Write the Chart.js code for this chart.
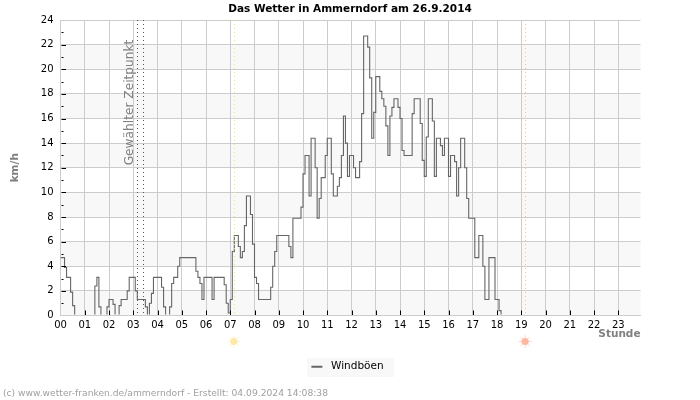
<!DOCTYPE html>
<html>
<head>
<meta charset="utf-8">
<title>Das Wetter in Ammerndorf</title>
<script src="https://cdn.jsdelivr.net/npm/chart.js@4/dist/chart.umd.min.js"></script>
<style>
  html, body { margin: 0; padding: 0; background: #fff; }
  #wrap { width: 700px; height: 400px; }
</style>
</head>
<body>
<div id="wrap"><canvas id="wetter" width="700" height="400"></canvas></div>
<script>
// wind gusts in km/h, one value every 5 minutes, one row per hour
const windGusts = [
  4.7, 4.7, 3.9, 3.1, 3.1, 1.9, 0.8, 0, 0, 0, 0, 0,
  0, 0, 0, 0, 0, 2.4, 3.1, 0.7, 0, 0, 0, 0.7,
  1.3, 1.3, 0.9, 0, 0, 0.8, 1.3, 1.3, 1.3, 2, 3.1, 3.1,
  3.1, 2, 1.3, 1.3, 1.3, 1.3, 0.7, 0, 1, 1.8, 3.1, 3.1,
  3.1, 3.1, 2.3, 0.7, 0, 0, 0.7, 2.6, 3.1, 3.1, 4, 4.7,
  4.7, 4.7, 4.7, 4.7, 4.7, 4.7, 4.7, 3.6, 3.1, 2.6, 1.3, 3.1,
  3.1, 3.1, 3.1, 1.3, 3.1, 3.1, 3.1, 3.1, 3.1, 2.5, 1, 0.2,
  1.3, 5.2, 6.5, 6.5, 5.6, 4.7, 5.2, 7.3, 9.7, 9.7, 8.2, 5.8,
  3.1, 2.6, 1.3, 1.3, 1.3, 1.3, 1.3, 1.3, 2.3, 4, 5.2, 6.5,
  6.5, 6.5, 6.5, 6.5, 6.5, 5.6, 4.7, 7.9, 7.9, 7.9, 7.9, 8.8,
  11.5, 13, 13, 9.7, 14.4, 14.4, 12, 7.9, 9.5, 11.2, 11.2, 13,
  14.4, 14.4, 11.5, 9.7, 9.7, 10.5, 11.2, 13, 16.2, 14, 11.3, 13,
  13, 12, 11.2, 11.2, 12.5, 16.4, 22.7, 22.7, 21.8, 19.3, 14.4, 16.5,
  19.4, 19.4, 18.2, 17.6, 17, 15.4, 13, 16.2, 16.9, 17.6, 17.6, 16.9,
  16, 13.4, 13, 13, 13, 13, 16.4, 17.6, 17.6, 17.6, 15.6, 12.6,
  11.3, 14.5, 17.6, 17.6, 15.8, 11.3, 14.4, 14.4, 13.8, 13, 14.4, 14.4,
  11.3, 13, 13, 12.5, 9.7, 12, 14.4, 14.4, 12, 9.5, 7.9, 7.9,
  7.9, 4.7, 4.7, 6.5, 6.5, 4, 1.3, 1.3, 4.7, 4.7, 4.7, 1.3,
  1.3, 0.4, 0
];
const hourLabels = ['00', '01', '02', '03', '04', '05', '06', '07', '08', '09', '10', '11',
  '12', '13', '14', '15', '16', '17', '18', '19', '20', '21', '22', '23'];
const shadedBands = [[0, 2], [4, 6], [8, 10], [12, 14], [16, 18], [20, 22]];
const selectedTimes = [3.16, 3.42];
const sunriseHour = 7.15;
const sunsetHour = 19.16;
const lastHour = 23 + 55 / 60; // axis ends at the last 5 minute slot

const gridColor = '#cccccc';
const greyText = '#808080';
const footerText = '(c) www.wetter-franken.de/ammerndorf - Erstellt: 04.09.2024 14:08:38';

function drawSun(ctx, x, y, core, ray) {
  ctx.save();
  ctx.strokeStyle = ray;
  ctx.lineWidth = 1;
  for (let a = 0; a < 8; a++) {
    const ang = a * Math.PI / 4;
    ctx.beginPath();
    ctx.moveTo(x + Math.cos(ang) * 3, y + Math.sin(ang) * 3);
    ctx.lineTo(x + Math.cos(ang) * 6.5, y + Math.sin(ang) * 6.5);
    ctx.stroke();
  }
  ctx.fillStyle = core;
  ctx.beginPath();
  ctx.arc(x, y, 3.6, 0, Math.PI * 2);
  ctx.fill();
  ctx.restore();
}

const wetterDecor = {
  id: 'wetterDecor',
  afterLayout(chart) {
    // the legend entry sits a little left of the centre of its box
    chart.legend.right -= 5;
  },
  beforeDraw(chart) {
    const { ctx, chartArea: a, scales: { y } } = chart;
    ctx.save();
    ctx.fillStyle = '#f8f8f8';
    shadedBands.forEach(b => {
      const top = y.getPixelForValue(b[1]);
      ctx.fillRect(a.left, top, a.right - a.left, y.getPixelForValue(b[0]) - top);
    });
    ctx.fillRect(307, 358, 87, 19);
    ctx.restore();
  },
  afterDatasetsDraw(chart) {
    const { ctx, chartArea: a, scales: { x, y } } = chart;
    ctx.save();

    // short black tick marks inside the plot
    ctx.strokeStyle = '#000';
    ctx.lineWidth = 1;
    for (let v = 1; v < 24; v++) {
      const py = Math.round(y.getPixelForValue(v)) + 0.5;
      ctx.beginPath();
      ctx.moveTo(a.left + 1, py);
      ctx.lineTo(a.left + (v % 2 ? 3 : 5.5), py);
      ctx.stroke();
    }
    for (let h = 1; h < 24; h++) {
      const px = Math.round(x.getPixelForValue(h)) + 0.5;
      ctx.beginPath();
      ctx.moveTo(px, a.bottom - 5);
      ctx.lineTo(px, a.bottom - 0.5);
      ctx.stroke();
    }

    // selected time, sunrise and sunset markers
    const vLine = (hour, color) => {
      const px = Math.round(x.getPixelForValue(hour)) + 0.5;
      ctx.strokeStyle = color;
      ctx.setLineDash([1, 3]);
      ctx.beginPath();
      ctx.moveTo(px, a.top);
      ctx.lineTo(px, a.bottom);
      ctx.stroke();
      ctx.setLineDash([]);
    };
    selectedTimes.forEach(t => vLine(t, '#555555'));
    vLine(sunriseHour, '#f2ea50');
    vLine(sunsetHour, '#f2c48a');

    ctx.font = '9.17px "DejaVu Sans"';
    ctx.fillStyle = '#a0a0a0';
    ctx.textAlign = 'left';
    ctx.textBaseline = 'middle';
    ctx.fillText(footerText, 3, 393.5);

    ctx.translate(130, 102.5);
    ctx.rotate(-Math.PI / 2);
    ctx.font = '12.2px "DejaVu Sans"';
    ctx.fillStyle = greyText;
    ctx.textAlign = 'center';
    ctx.fillText('Gewählter Zeitpunkt', 0, 0);
    ctx.restore();

    drawSun(ctx, x.getPixelForValue(sunriseHour), 341.5, '#ffe9a6', '#fff2cc');
    drawSun(ctx, x.getPixelForValue(sunsetHour), 341.5, '#ffb8a0', '#ffd8cc');
  }
};

new Chart(document.getElementById('wetter'), {
  type: 'line',
  data: {
    datasets: [{
      label: 'Windböen',
      data: windGusts.map((v, i) => ({ x: i / 12, y: v })),
      borderColor: '#666666',
      backgroundColor: '#666666',
      borderWidth: 1.1,
      stepped: true,
      pointRadius: 0,
      fill: false,
      clip: { left: 0, top: 0, right: 0, bottom: -1 }
    }]
  },
  options: {
    responsive: false,
    animation: false,
    layout: { padding: { left: 0, right: 0, top: 0, bottom: 18 } },
    plugins: {
      title: {
        display: true,
        text: 'Das Wetter in Ammerndorf am 26.9.2014',
        color: '#000',
        font: { family: '"DejaVu Sans"', size: 10.5, weight: 'bold', lineHeight: 1.2 },
        padding: { top: 3, bottom: 4.4 }
      },
      legend: {
        position: 'bottom',
        labels: {
          color: '#000',
          font: { family: '"DejaVu Sans"', size: 10.5 },
          boxWidth: 11,
          boxHeight: 0,
          padding: 5,
          generateLabels(chart) {
            const items = Chart.defaults.plugins.legend.labels.generateLabels(chart);
            items.forEach(it => { it.lineWidth = 2; it.text = ' ' + it.text; });
            return items;
          }
        }
      },
      tooltip: { enabled: false }
    },
    scales: {
      x: {
        type: 'linear',
        min: 0,
        max: lastHour,
        afterFit(scale) { scale.height = 41; },
        afterBuildTicks(scale) {
          scale.ticks = hourLabels.map((l, i) => ({ value: i }));
        },
        grid: { color: gridColor, drawTicks: false },
        border: { color: gridColor },
        ticks: {
          color: '#000',
          font: { family: '"DejaVu Sans"', size: 10 },
          padding: 4,
          maxRotation: 0,
          autoSkip: false,
          callback: v => hourLabels[v]
        },
        title: {
          display: true,
          text: 'Stunde',
          align: 'end',
          color: greyText,
          font: { family: '"DejaVu Sans"', size: 10.5, weight: 'bold' },
          padding: { top: 0, bottom: 16 }
        }
      },
      y: {
        min: 0,
        max: 24,
        afterFit(scale) { scale.width = 60.5; },
        grid: { color: gridColor, drawTicks: false },
        border: { color: gridColor },
        ticks: {
          color: '#000',
          font: { family: '"DejaVu Sans"', size: 10 },
          stepSize: 2,
          padding: 7
        },
        title: {
          display: true,
          text: 'km/h',
          color: greyText,
          font: { family: '"DejaVu Sans"', size: 10.5, weight: 'bold' },
          padding: { top: 9, bottom: 0 }
        }
      },
      // empty axis that only keeps the right margin free
      rightMargin: {
        axis: 'y',
        position: 'right',
        afterFit(scale) { scale.width = 59.5; },
        grid: { display: false },
        border: { display: false },
        ticks: { display: false }
      }
    }
  },
  plugins: [wetterDecor]
});
</script>
</body>
</html>
